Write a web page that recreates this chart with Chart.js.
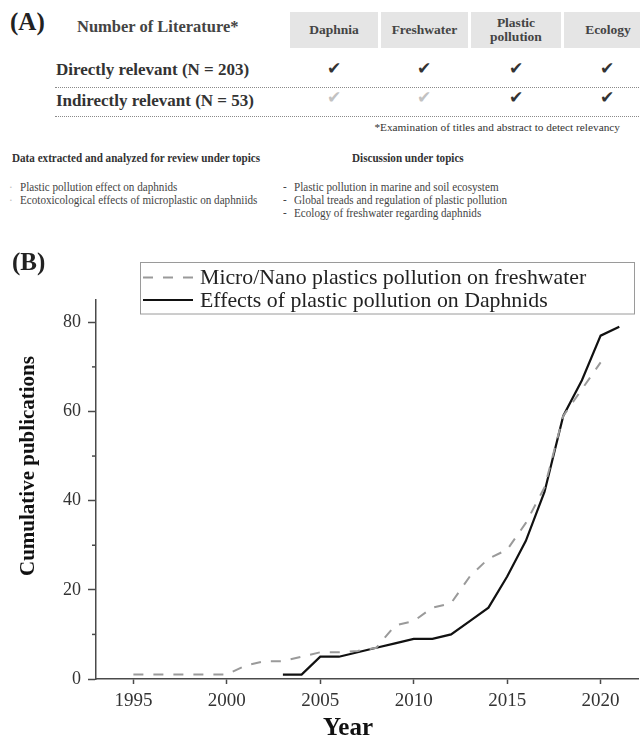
<!DOCTYPE html>
<html>
<head>
<meta charset="utf-8">
<script src="https://cdn.jsdelivr.net/npm/chart.js@4.4.0/dist/chart.umd.min.js"></script>
<style>
  html, body { margin: 0; padding: 0; background: #fff; }
  body { width: 640px; height: 745px; position: relative; overflow: hidden;
         font-family: "Liberation Serif", "Times New Roman", serif; color: #333; }
  .t { position: absolute; white-space: nowrap; z-index: 2; }
  .b { font-weight: bold; }
  .hd { position: absolute; top: 12px; height: 36px; background: #e5e5e5; color: #444;
        font-weight: bold; font-size: 13.5px; line-height: 14px; display: flex;
        align-items: center; justify-content: center; text-align: center; }
  .ck { position: absolute; width: 24px; margin-left: -12px; text-align: center;
        font-family: "DejaVu Sans"; font-size: 17px; line-height: 18px; color: #333; }
  .ck.lt { color: #c2c2c2; }
  .dots { position: absolute; left: 55px; width: 600px; border-top: 1px dotted #8a8a8a; }
  .sm { font-size: 12.5px; line-height: 13px; color: #444; transform: scaleX(0.89); transform-origin: 0 50%; }
  #wrap { position: absolute; left: 0; top: 240px; width: 640px; height: 505px; }
</style>
</head>
<body>

<!-- (A) tableau -->
<div class="t b" style="left:10px; top:7px; font-size:25px; line-height:30px; color:#222;">(A)</div>
<div class="t b" style="left:77px; top:17px; font-size:16.5px; line-height:20px; color:#444;">Number of Literature*</div>

<div class="hd" style="left:290px; width:88px;">Daphnia</div>
<div class="hd" style="left:381px; width:87px;">Freshwater</div>
<div class="hd" style="left:471px; width:90px;">Plastic<br>pollution</div>
<div class="hd" style="left:564px; width:88px;">Ecology</div>

<div class="t b" style="left:56px; top:60px; font-size:17px; line-height:20px;">Directly relevant (N = 203)</div>
<div class="dots" style="top:87px;"></div>
<div class="t b" style="left:56px; top:91px; font-size:17px; line-height:20px;">Indirectly relevant (N = 53)</div>
<div class="dots" style="top:116px;"></div>

<div class="ck" style="left:334px; top:59px;">✔</div>
<div class="ck" style="left:424px; top:59px;">✔</div>
<div class="ck" style="left:516px; top:59px;">✔</div>
<div class="ck" style="left:607px; top:59px;">✔</div>
<div class="ck lt" style="left:334px; top:88px;">✔</div>
<div class="ck lt" style="left:424px; top:88px;">✔</div>
<div class="ck" style="left:516px; top:88px;">✔</div>
<div class="ck" style="left:607px; top:88px;">✔</div>

<div class="t" style="right:20px; top:120px; font-size:11.3px; line-height:14px; color:#333;">*Examination of titles and abstract to detect relevancy</div>

<div class="t b sm" style="left:12px; top:151px; line-height:14px; color:#333;">Data extracted and analyzed for review under topics</div>
<div class="t b sm" style="left:352px; top:151px; line-height:14px; color:#333;">Discussion under topics</div>

<div class="t sm" style="left:9px; top:181px; color:#bbb;">·</div>
<div class="t sm" style="left:20px; top:181px;">Plastic pollution effect on daphnids</div>
<div class="t sm" style="left:9px; top:194px; color:#bbb;">·</div>
<div class="t sm" style="left:20px; top:194px;">Ecotoxicological effects of microplastic on daphniids</div>

<div class="t sm" style="left:283px; top:181px;">-</div>
<div class="t sm" style="left:294px; top:181px;">Plastic pollution in marine and soil ecosystem</div>
<div class="t sm" style="left:283px; top:194px;">-</div>
<div class="t sm" style="left:294px; top:194px;">Global treads and regulation of plastic pollution</div>
<div class="t sm" style="left:283px; top:207px;">-</div>
<div class="t sm" style="left:294px; top:207px;">Ecology of freshwater regarding daphnids</div>

<!-- (B) graphique -->
<div class="t b" style="left:12px; top:247px; font-size:25px; line-height:30px; color:#222;">(B)</div>
<div id="wrap"><canvas id="pubChart"></canvas></div>
<div class="t b" style="left:27px; top:466px; font-size:21px; line-height:24px; color:#111;
     transform: translate(-50%, -50%) rotate(-90deg);">Cumulative publications</div>
<div class="t b" style="left:348px; top:727px; font-size:25px; line-height:30px; color:#111;
     transform: translate(-50%, -50%);">Year</div>

<script>
// Données
const years = [1995, 1996, 1997, 1998, 1999, 2000, 2001, 2002, 2003, 2004, 2005, 2006, 2007, 2008,
               2009, 2010, 2011, 2012, 2013, 2014, 2015, 2016, 2017, 2018, 2019, 2020, 2021];
const microNano = [1, 1, 1, 1, 1, 1, 3, 4, 4, 5, 6, 6, 6.3, 7,
                   12, 13, 16, 17, 23, 27, 29, 35, 43, 59, 65, 71, null];
const daphnids = [null, null, null, null, null, null, null, null, 1, 1, 5, 5, 6, 7,
                  8, 9, 9, 10, 13, 16, 23, 31, 42, 59, 67, 77, 79];
const seriesNames = ['Micro/Nano plastics pollution on freshwater', 'Effects of plastic pollution on Daphnids'];
const xTickLabels = [1995, 2000, 2005, 2010, 2015, 2020];
const yTickLabels = [0, 20, 40, 60, 80];
const yMinorTicks = [10, 30, 50, 70];

const axisColor = '#4a4a4a';

function toPoints(values) {
    return years.map((yr, i) => ({ x: yr, y: values[i] }));
}

// Petits traits secondaires de l'axe Y + légende encadrée
const extras = {
    id: 'extras',
    afterDraw(chart) {
        const ctx = chart.ctx;
        const yScale = chart.scales.y;
        ctx.save();
        ctx.strokeStyle = axisColor;
        ctx.lineWidth = 1.5;
        yMinorTicks.forEach(v => {
            const py = yScale.getPixelForValue(v);
            ctx.beginPath();
            ctx.moveTo(yScale.right - 4, py);
            ctx.lineTo(yScale.right, py);
            ctx.stroke();
        });

        ctx.strokeStyle = '#9a9a9a';
        ctx.lineWidth = 1;
        ctx.strokeRect(140.5, 22.5, 494, 51.5);
        ctx.font = '21.8px "Liberation Serif"';
        ctx.textBaseline = 'middle';
        ctx.fillStyle = '#222';
        chart.data.datasets.forEach((ds, i) => {
            const ly = 37.5 + i * 22.5;
            ctx.strokeStyle = ds.borderColor;
            ctx.lineWidth = ds.borderWidth;
            ctx.setLineDash(ds.borderDash || []);
            ctx.beginPath();
            ctx.moveTo(143, ly);
            ctx.lineTo(193, ly);
            ctx.stroke();
            ctx.setLineDash([]);
            ctx.fillText(ds.label, 200, ly + 1);
        });
        ctx.restore();
    }
};

new Chart(document.getElementById('pubChart'), {
    type: 'line',
    data: {
        datasets: [{
            label: seriesNames[0],
            data: toPoints(microNano),
            borderColor: '#9a9a9a',
            borderWidth: 2,
            borderDash: [10, 10],
            pointRadius: 0,
            tension: 0,
            fill: false
        }, {
            label: seriesNames[1],
            data: toPoints(daphnids),
            borderColor: '#111',
            borderWidth: 2.2,
            pointRadius: 0,
            tension: 0,
            fill: false
        }]
    },
    options: {
        responsive: true,
        maintainAspectRatio: false,
        animation: false,
        layout: { padding: { top: 60, right: 2, left: 0, bottom: 0 } },
        plugins: {
            legend: { display: false },
            tooltip: { enabled: false }
        },
        scales: {
            x: {
                type: 'linear',
                min: 1993,
                max: 2022,
                afterBuildTicks: scale => { scale.ticks = xTickLabels.map(v => ({ value: v })); },
                afterFit: scale => { scale.height = 66; },
                ticks: {
                    autoSkip: false,
                    maxRotation: 0,
                    padding: 6,
                    color: '#333',
                    font: { family: 'Liberation Serif', size: 19 },
                    callback: v => String(v)
                },
                grid: { drawOnChartArea: false, tickLength: 5, tickColor: axisColor, tickWidth: 1.5 },
                border: { color: axisColor, width: 1.5 }
            },
            y: {
                min: 0,
                max: 85,
                afterBuildTicks: scale => { scale.ticks = yTickLabels.map(v => ({ value: v })); },
                afterFit: scale => { scale.width = 96; },
                ticks: {
                    padding: 7,
                    color: '#333',
                    font: { family: 'Liberation Serif', size: 18 }
                },
                grid: { drawOnChartArea: false, tickLength: 8, tickColor: axisColor, tickWidth: 1.5 },
                border: { color: axisColor, width: 1.5 }
            }
        }
    },
    plugins: [extras]
});
</script>
</body>
</html>
